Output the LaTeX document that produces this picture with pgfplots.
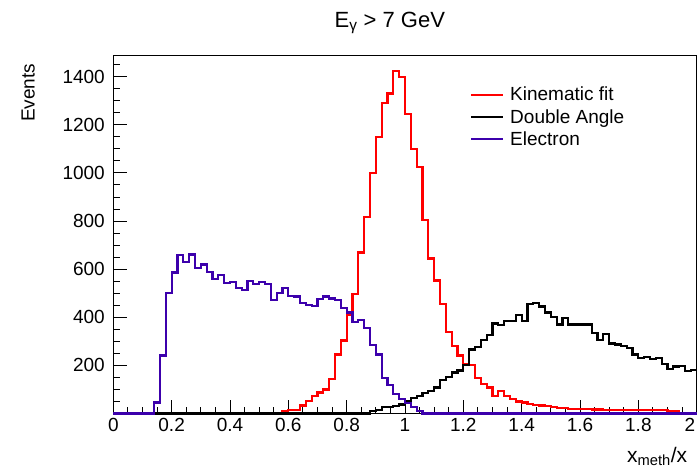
\documentclass[border=0pt]{standalone}
\usepackage{fontspec}
\setmainfont{Liberation Sans}
\usepackage{pgfplots}
\usepackage{pgfplotstable}
\pgfplotsset{compat=1.18}
\definecolor{elec}{RGB}{60,0,172}
\pgfplotstableread{
x red black blue
0.00 0 0 0
0.02 0 0 0
0.04 0 0 0
0.06 0 0 0
0.08 0 0 0
0.10 0 0 0
0.12 0 0 0
0.14 0 0 46
0.16 0 0 241
0.18 0 0 500
0.20 0 0 586
0.22 0 0 658
0.24 0 0 631
0.26 0 0 661
0.28 0 0 606
0.30 0 0 619
0.32 0 0 589
0.34 0 0 558
0.36 0 0 575
0.38 0 0 544
0.40 0 0 548
0.42 0 0 520
0.44 0 0 513
0.46 0 0 550
0.48 0 0 537
0.50 0 0 548
0.52 0 0 538
0.54 0 0 472
0.56 0 0 502
0.58 12 0 520
0.60 14 0 490
0.62 16 0 486
0.64 33 0 460
0.66 53 0 450
0.68 74 0 446
0.70 87 0 476
0.72 100 0 486
0.74 145 0 478
0.76 245 0 472
0.78 303 0 438
0.80 408 0 420
0.82 496 0 379
0.84 669 0 390
0.86 818 0 357
0.88 1000 12 284
0.90 1150 15 245
0.92 1292 26 147
0.94 1330 28 118
0.96 1423 30 82
0.98 1398 37 60
1.00 1245 50 44
1.02 1098 64 26
1.04 1024 74 12
1.06 804 85 0
1.08 644 94 0
1.10 553 108 0
1.12 456 138 0
1.14 340 153 0
1.16 281 170 0
1.18 241 179 0
1.20 205 200 0
1.22 200 266 0
1.24 146 275 0
1.26 123 304 0
1.28 108 327 0
1.30 72 374 0
1.32 92 369 0
1.34 72 383 0
1.36 60 383 0
1.38 50 408 0
1.40 46 383 0
1.42 38 456 0
1.44 34 459 0
1.46 33 445 0
1.48 30 420 0
1.50 26 402 0
1.52 24 370 0
1.54 22 396 0
1.56 20 370 0
1.58 19 370 0
1.60 18 370 0
1.62 18 370 0
1.64 17 336 0
1.66 17 307 0
1.68 16 330 0
1.70 16 291 0
1.72 15 287 0
1.74 15 280 0
1.76 15 272 0
1.78 14 245 0
1.80 14 232 0
1.82 14 234 0
1.84 13 227 0
1.86 13 232 0
1.88 13 207 0
1.90 12 184 0
1.92 12 195 0
1.94 0 199 0
1.96 0 178 0
1.98 0 181 0
2.00 0 181 0
}\histdata
\begin{document}
\begin{tikzpicture}
\useasboundingbox (-113.3bp,-61.5bp) rectangle (583.7bp,413.5bp);
\begin{axis}[
  at={(0,0)}, anchor=south west,
  scale only axis, width=583.4bp, height=358.5bp,
  xmin=0, xmax=2, ymin=0, ymax=1490,
  clip=false,
  axis line style={line width=0.9bp},
  xtick={0,0.2,0.4,0.6,0.8,1,1.2,1.4,1.6,1.8},
  xticklabels={0,0.2,0.4,0.6,0.8,1,1.2,1.4,1.6,1.8},
  extra x ticks={2},
  extra x tick labels={2},
  extra x tick style={xticklabel style={anchor=north east, xshift=2bp}},
  ytick={200,400,600,800,1000,1200,1400},
  yticklabels={200,400,600,800,1000,1200,1400},
  minor xtick={0.05,0.1,0.15,0.25,0.3,0.35,0.45,0.5,0.55,0.65,0.7,0.75,0.85,0.9,0.95,1.05,1.1,1.15,1.25,1.3,1.35,1.45,1.5,1.55,1.65,1.7,1.75,1.85,1.9,1.95},
  minor ytick={50,100,150,250,300,350,450,500,550,650,700,750,850,900,950,1050,1100,1150,1250,1300,1350,1450},
  tick pos=left, tick align=inside,
  major tick length=14bp, minor tick length=7bp,
  tick style={line width=0.9bp, black},
  tick label style={font=\fontsize{19bp}{22bp}\selectfont},
  yticklabel style={xshift=-5bp},
  xticklabel style={yshift=-1bp},
  title={E\textsubscript{γ} > 7 GeV},
  title style={at={(axis description cs:0.474,1)}, anchor=base, yshift=22bp, font=\fontsize{22bp}{26bp}\selectfont},
  xlabel={x\textsubscript{meth}/x},
  xlabel style={at={(axis description cs:1,0)}, anchor=north east, yshift=-30bp, xshift=-6bp, font=\fontsize{21bp}{24bp}\selectfont},
  ylabel={Events},
  ylabel style={at={(axis description cs:-0.146,0.985)}, anchor=east, font=\fontsize{19bp}{22bp}\selectfont},
  legend style={draw=none, fill=none, at={(axis description cs:0.606,0.922)}, anchor=north west, font=\fontsize{19bp}{22bp}\selectfont, row sep=3bp},
  legend cell align=left,
  legend image code/.code={\draw[#1, line width=2.2bp] (0bp,0bp) -- (32bp,0bp); \path (36bp,0bp);},
]
\addplot[const plot, color=red, line width=2.2bp] table[x=x, y=red] {\histdata};
\addlegendentry{Kinematic fit}
\addplot[const plot, color=black, line width=2.2bp] table[x=x, y=black] {\histdata};
\addlegendentry{Double Angle}
\addplot[const plot, color=elec, line width=2.2bp] table[x=x, y=blue] {\histdata};
\addlegendentry{Electron}
\end{axis}
\end{tikzpicture}
\end{document}
